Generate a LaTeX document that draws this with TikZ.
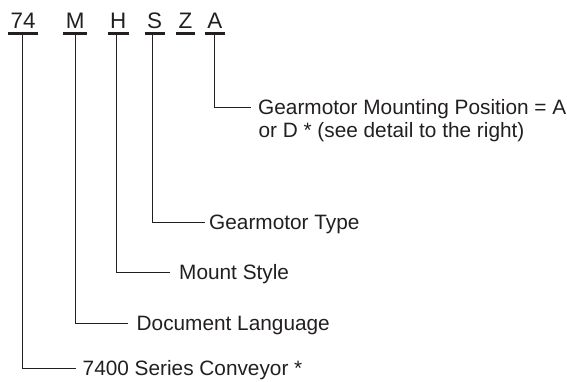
\documentclass[tikz,border=0pt]{standalone}
\usepackage{fontspec}
\setmainfont{Liberation Sans}
\usetikzlibrary{calc}
\definecolor{ink}{HTML}{231F20}
\begin{document}
\begin{tikzpicture}[x=1pt,y=-1pt,
  code/.style={anchor=base, inner xsep=2.4pt, inner ysep=5pt, text depth=0pt,
    font=\fontsize{22.4}{26}\selectfont, text=ink},
  lbl/.style={anchor=west, inner ysep=0pt, text height=14.9pt, text depth=0pt,
    font=\fontsize{20.8}{24}\selectfont, text=ink},
  uline/.style={draw=ink, line width=2.7pt},
  conn/.style={draw=ink, line width=1pt}]
\useasboundingbox (0,0) rectangle (567,381);
% code letters
\node[code] (c74) at (23.2,28.3) {74};
\node[code] (cM) at (75.3,28.3) {M};
\node[code] (cH) at (118.3,28.3) {H};
\node[code] (cS) at (154.7,28.3) {S};
\node[code] (cZ) at (185.5,28.3) {Z};
\node[code] (cA) at (214.8,28.3) {A};
\foreach \n in {c74,cM,cH,cS,cZ,cA}
  \draw[uline] (\n.south west) -- (\n.south east);
% labels
\node[lbl, inner xsep=7pt] (lA) at (251,107) {Gearmotor Mounting Position = A};
\node[anchor=base west, inner sep=0pt, font=\fontsize{20.8}{24}\selectfont, text=ink]
  (lA2) at ($(lA.west)+(7.3,30.5)$) {or D * (see detail to the right)};
\node[lbl, inner xsep=4pt] (lS) at (205,222) {Gearmotor Type};
\node[lbl, inner xsep=9pt] (lH) at (170,272.5) {Mount Style};
\node[lbl, inner xsep=8.5pt] (lM) at (128,323) {Document Language};
\node[lbl, inner xsep=6.5pt] (l74) at (76,368.5) {7400 Series Conveyor *};
% connectors
\draw[conn] ([xshift=-0.5pt]c74.south) |- (l74.west);
\draw[conn] (cM.south) |- (lM.west);
\draw[conn] ([xshift=-1.6pt]cH.south) |- (lH.west);
\draw[conn] ([xshift=-2.7pt]cS.south) |- (lS.west);
\draw[conn] (cA.south) |- (lA.west);
\end{tikzpicture}
\end{document}
